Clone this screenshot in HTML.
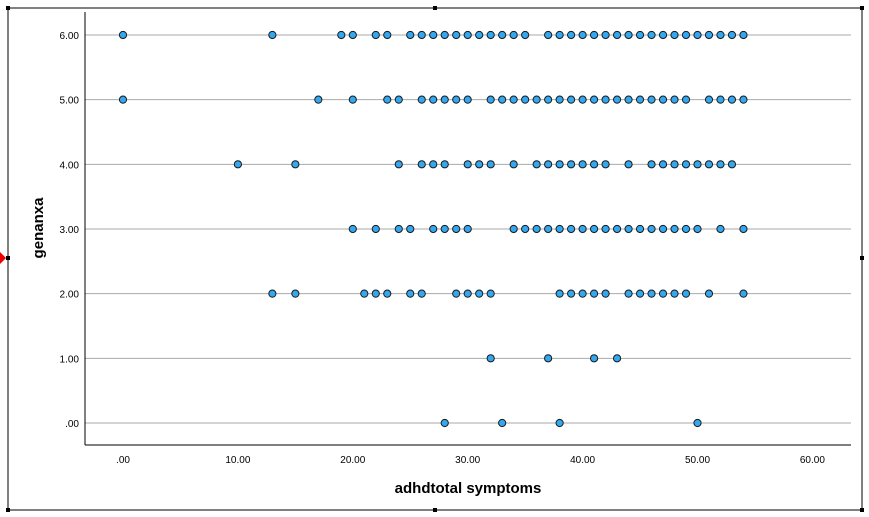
<!DOCTYPE html>
<html><head><meta charset="utf-8"><style>
body{margin:0;background:#fff;}
svg{display:block;font-family:"Liberation Sans",sans-serif;}
</style></head><body>
<svg id="c" width="869" height="517">
<rect x="8" y="8" width="854" height="502" fill="none" stroke="#000" stroke-width="1"/>
<g fill="#000">
<rect x="6" y="6" width="4" height="4"/><rect x="433" y="6" width="4" height="4"/><rect x="860" y="6" width="4" height="4"/>
<rect x="6" y="256" width="4" height="4"/><rect x="860" y="256" width="4" height="4"/>
<rect x="6" y="508" width="4" height="4"/><rect x="433" y="508" width="4" height="4"/><rect x="860" y="508" width="4" height="4"/>
</g>
<polygon points="0,252 6,258 0,264" fill="#e00"/>
<g id="grid"></g>
<line x1="85" y1="12" x2="85" y2="445" stroke="#000"/>
<line x1="85" y1="445" x2="851" y2="445" stroke="#000"/>
<g id="ticks" font-size="10" fill="#000"></g>
<g id="pts"></g>
<text x="468" y="493" text-anchor="middle" font-size="15" font-weight="bold">adhdtotal symptoms</text>
<text x="43" y="228" text-anchor="middle" font-size="15" font-weight="bold" transform="rotate(-90 43 228)">genanxa</text>
</svg>
<script>
const xTicks=[0,10,20,30,40,50,60];
const xTickLabels=[".00","10.00","20.00","30.00","40.00","50.00","60.00"];
const yTicks=[0,1,2,3,4,5,6];
const yTickLabels=[".00","1.00","2.00","3.00","4.00","5.00","6.00"];
const r=(a,b)=>{const o=[];for(let i=a;i<=b;i++)o.push(i);return o;};
const row6=[0,13,19,20,22,23,...r(25,35),...r(37,54)];
const row5=[0,17,20,23,24,...r(26,30),...r(32,49),...r(51,54)];
const row4=[10,15,24,26,27,28,30,31,32,34,...r(36,42),44,...r(46,53)];
const row3=[20,22,24,25,...r(27,30),...r(34,50),52,54];
const row2=[13,15,21,22,23,25,26,...r(29,32),...r(38,42),...r(44,49),51,54];
const row1=[32,37,41,43];
const row0=[28,33,38,50];
const rows=[row0,row1,row2,row3,row4,row5,row6];
const X=v=>123+v*11.49, Y=v=>423-v*64.67;
const NS="http://www.w3.org/2000/svg";
const g=document.getElementById('grid'),t=document.getElementById('ticks'),p=document.getElementById('pts');
yTicks.forEach((v,i)=>{
 const l=document.createElementNS(NS,'line');
 l.setAttribute('x1',85);l.setAttribute('x2',851);l.setAttribute('y1',Y(v));l.setAttribute('y2',Y(v));
 l.setAttribute('stroke','#aaa');
 
 
 g.appendChild(l);
 const s=document.createElementNS(NS,'text');
 s.setAttribute('x',79);s.setAttribute('y',Y(v)+4);s.setAttribute('text-anchor','end');
 s.textContent=yTickLabels[i];
 
 
 t.appendChild(s);
});
xTicks.forEach((v,i)=>{
 const s=document.createElementNS(NS,'text');
 s.setAttribute('x',X(v));s.setAttribute('y',463);s.setAttribute('text-anchor','middle');
 s.textContent=xTickLabels[i];
 
 
 t.appendChild(s);
});
rows.forEach((row,yi)=>row.forEach(v=>{
 const c=document.createElementNS(NS,'circle');
 c.setAttribute('cx',X(v));c.setAttribute('cy',Y(yi));c.setAttribute('r',3.6);
 c.setAttribute('fill','#33a7ef');c.setAttribute('stroke','#1a1a1a');c.setAttribute('stroke-width','1');
 
 
 p.appendChild(c);
}));
</script>
</body></html>
